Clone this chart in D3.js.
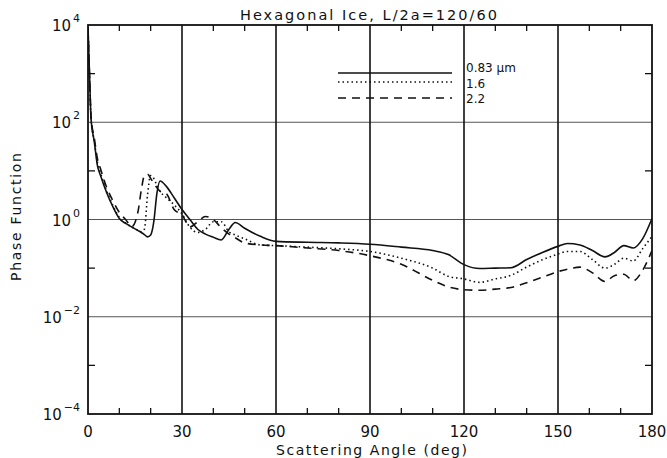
<!DOCTYPE html>
<html>
<head>
<meta charset="utf-8">
<script src="https://cdn.jsdelivr.net/npm/d3@7"></script>
<style>
  body { margin: 0; background: #fff; }
  svg { display: block; }
  text { font-family: "DejaVu Sans", sans-serif; fill: #111; }
</style>
</head>
<body>
<svg id="chart" width="667" height="458"></svg>
<script>
// Data (phase function vs scattering angle)
const angles = [0, 0.5, 1, 2, 3, 4, 6, 8, 10, 12, 14, 16, 17, 18, 19, 20, 21, 22, 23, 25, 27.5,
  30, 32.5, 35, 37.5, 40, 42.5, 45, 47, 50, 55, 60, 70, 80, 90, 100, 110, 115, 120, 125, 130,
  135, 140, 145, 150, 153, 157, 161, 165, 168, 171, 174, 177, 180];

const p083 = [9000, 900, 110, 40, 13, 8, 3.5, 1.8, 1.05, 0.83, 0.7, 0.59, 0.54, 0.49, 0.44, 0.48, 0.9, 3.5, 6.2, 4.8, 2.8,
  1.6, 1.0, 0.63, 0.5, 0.43, 0.38, 0.63, 0.87, 0.66, 0.45, 0.355, 0.34, 0.33, 0.31, 0.27, 0.23, 0.19, 0.118, 0.098, 0.1,
  0.102, 0.15, 0.21, 0.28, 0.32, 0.30, 0.23, 0.17, 0.21, 0.29, 0.26, 0.40, 1.05];

const p16 = [9000, 850, 110, 42, 15, 9, 3.8, 1.9, 1.1, 0.85, 0.7, 0.6, 0.56, 0.63, 3.2, 8, 7, 5, 3.8, 2.8, 2.0,
  1.3, 0.7, 0.54, 0.63, 0.9, 0.9, 0.56, 0.48, 0.4, 0.3, 0.29, 0.27, 0.25, 0.22, 0.16, 0.1, 0.068, 0.06, 0.051, 0.06,
  0.071, 0.105, 0.148, 0.195, 0.22, 0.22, 0.15, 0.1, 0.12, 0.16, 0.14, 0.25, 0.45];

const p22 = [9000, 850, 120, 48, 18, 11, 4.5, 2.4, 1.4, 1.0, 0.72, 1.5, 4, 8, 8.5, 7, 5.5, 4.5, 3.8, 3.4, 1.6,
  1.25, 0.7, 0.9, 1.15, 1.0, 0.68, 0.5, 0.42, 0.33, 0.3, 0.29, 0.26, 0.23, 0.18, 0.12, 0.056, 0.041, 0.036, 0.035, 0.037,
  0.04, 0.05, 0.065, 0.085, 0.095, 0.105, 0.08, 0.053, 0.07, 0.075, 0.055, 0.09, 0.23];

const seriesNames = ["0.83 \u03bcm", "1.6", "2.2"];
const seriesDash = [null, "1.5,3", "8,6"];
const xTicks = [0, 30, 60, 90, 120, 150, 180];
const yExps = [4, 2, 0, -2, -4];

const svg = d3.select("#chart");
const m = { left: 88, right: 652, top: 25, bottom: 414 };

const x = d3.scaleLinear().domain([0, 180]).range([m.left, m.right]);
const y = d3.scaleLog().domain([1e-4, 1e4]).range([m.bottom, m.top]);

// Grid lines
svg.selectAll(".hgrid")
  .data([1e2, 1e0, 1e-2])
  .enter().append("line")
  .attr("x1", m.left).attr("x2", m.right)
  .attr("y1", d => y(d)).attr("y2", d => y(d))
  .attr("stroke", "#555").attr("stroke-width", 1);

svg.selectAll(".vgrid")
  .data([30, 60, 90, 120, 150])
  .enter().append("line")
  .attr("x1", d => x(d)).attr("x2", d => x(d))
  .attr("y1", m.top).attr("y2", m.bottom)
  .attr("stroke", "#111").attr("stroke-width", 1.6);

// Minor ticks: every 10 deg on top / bottom, odd decades on left / right
const minorX = d3.range(10, 180, 10).filter(d => d % 30 !== 0);
svg.selectAll(".mxb").data(minorX).enter().append("line")
  .attr("x1", d => x(d)).attr("x2", d => x(d))
  .attr("y1", m.bottom).attr("y2", m.bottom - 6)
  .attr("stroke", "#111").attr("stroke-width", 1.3);
svg.selectAll(".mxt").data(minorX).enter().append("line")
  .attr("x1", d => x(d)).attr("x2", d => x(d))
  .attr("y1", m.top).attr("y2", m.top + 6)
  .attr("stroke", "#111").attr("stroke-width", 1.3);

const minorY = [1e3, 1e1, 1e-1, 1e-3];
svg.selectAll(".myl").data(minorY).enter().append("line")
  .attr("x1", m.left).attr("x2", m.left + 7)
  .attr("y1", d => y(d)).attr("y2", d => y(d))
  .attr("stroke", "#111").attr("stroke-width", 1.3);
svg.selectAll(".myr").data(minorY).enter().append("line")
  .attr("x1", m.right).attr("x2", m.right - 7)
  .attr("y1", d => y(d)).attr("y2", d => y(d))
  .attr("stroke", "#111").attr("stroke-width", 1.3);

// Curves
svg.append("defs").append("clipPath").attr("id", "plot-clip")
  .append("rect")
  .attr("x", m.left).attr("y", m.top)
  .attr("width", m.right - m.left).attr("height", m.bottom - m.top);

const line = d3.line()
  .x(d => x(d[0]))
  .y(d => y(d[1]))
  .curve(d3.curveMonotoneX);

const series = [p083, p16, p22].map((vals, i) => ({
  name: seriesNames[i],
  dash: seriesDash[i],
  points: angles.map((a, j) => [a, vals[j]])
}));

svg.append("g").attr("clip-path", "url(#plot-clip)")
  .selectAll("path")
  .data(series)
  .enter().append("path")
  .attr("d", d => line(d.points))
  .attr("fill", "none")
  .attr("stroke", "#111")
  .attr("stroke-width", 1.6)
  .attr("stroke-dasharray", d => d.dash);

// Frame
svg.append("rect")
  .attr("x", m.left).attr("y", m.top)
  .attr("width", m.right - m.left).attr("height", m.bottom - m.top)
  .attr("fill", "none").attr("stroke", "#111").attr("stroke-width", 1.8);

// X tick labels
svg.selectAll(".xlab").data(xTicks).enter().append("text")
  .attr("x", d => x(d)).attr("y", 437)
  .attr("text-anchor", "middle")
  .attr("font-size", 15)
  .text(d => d);

// Y tick labels: 10 with superscript exponent
const ylab = svg.selectAll(".ylab").data(yExps).enter().append("text")
  .attr("x", 80).attr("y", d => y(Math.pow(10, d)) + 6)
  .attr("text-anchor", "end")
  .attr("font-size", 15);
ylab.append("tspan").text("10");
ylab.append("tspan")
  .attr("dy", -9).attr("dx", 2)
  .attr("font-size", 11)
  .text(d => d < 0 ? "\u2212" + Math.abs(d) : d);

// Axis titles
svg.append("text")
  .attr("x", 276).attr("y", 455)
  .attr("font-size", 14)
  .attr("textLength", 191).attr("lengthAdjust", "spacing")
  .text("Scattering Angle (deg)");

svg.append("text")
  .attr("transform", "translate(21,153) rotate(-90)")
  .attr("text-anchor", "end").attr("font-size", 14)
  .attr("textLength", 128).attr("lengthAdjust", "spacing")
  .text("Phase Function");

svg.append("text")
  .attr("x", 240).attr("y", 20)
  .attr("font-size", 14.5)
  .attr("textLength", 257).attr("lengthAdjust", "spacing")
  .text("Hexagonal Ice, L/2a=120/60");

// Legend
const legY = [73, 82, 98];
const legTextY = [72, 88, 103];
const leg = svg.append("g");
leg.selectAll("line").data(series).enter().append("line")
  .attr("x1", 338).attr("x2", 452)
  .attr("y1", (d, i) => legY[i]).attr("y2", (d, i) => legY[i])
  .attr("stroke", "#111").attr("stroke-width", 1.6)
  .attr("stroke-dasharray", d => d.dash);
leg.selectAll("text").data(series).enter().append("text")
  .attr("x", 466).attr("y", (d, i) => legTextY[i])
  .attr("font-size", 12)
  .text(d => d.name);
</script>
</body>
</html>
